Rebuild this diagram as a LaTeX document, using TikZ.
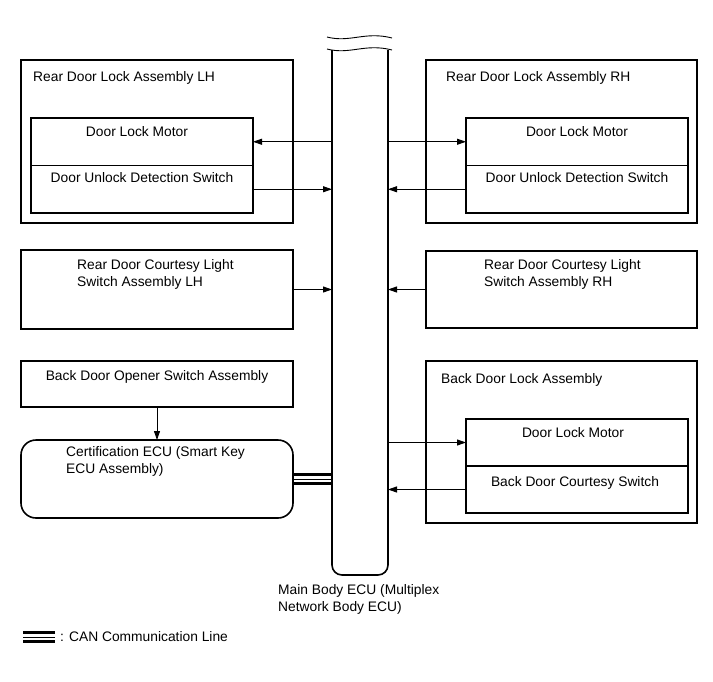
\documentclass[tikz,border=0pt]{standalone}
\usepackage{fontspec}
\setmainfont{Liberation Sans}
\usetikzlibrary{positioning,arrows.meta}

\begin{document}
\begin{tikzpicture}[
  x=1pt, y=-1pt,
  font=\fontsize{13.8}{17}\selectfont,
  assy/.style={rectangle, draw, line width=1.6pt, inner sep=0pt, outer sep=0pt, minimum width=272pt, minimum height=163pt, anchor=north west},
  part/.style={rectangle, draw, line width=1.6pt, inner sep=0pt, outer sep=0pt, minimum width=222pt, minimum height=47.5pt},
  unit/.style={rectangle, draw, line width=1.6pt, inner sep=0pt, outer sep=0pt, minimum width=272pt, anchor=north west},
  lbl/.style={inner sep=0pt, align=left},
  sig/.style={-{Triangle[length=9pt,width=6pt]}, line width=0.9pt},
  canbus/.style={line width=2.2pt},
  canmid/.style={line width=0.8pt}
]
\useasboundingbox (0,0) rectangle (713,681);

% Main body ECU
\node[inner sep=0pt, outer sep=0pt, minimum width=56pt, minimum height=525pt, anchor=north west] (ecu) at (332,50) {};
\draw[line width=1.6pt, rounded corners=10pt] (ecu.north west) -- (ecu.south west) -- (ecu.south east) -- (ecu.north east);
\draw[fill=white, draw=none] (326,36) rectangle (393,49);
\draw[line width=0.9pt] (327,37) .. controls (350,43) and (365,31) .. (392,38);
\draw[line width=0.9pt] (327,49) .. controls (350,55) and (365,43) .. (392,50);
\node[lbl, anchor=west] (ecuTxt) at (278,599.5) {Main Body ECU (Multiplex\\Network Body ECU)};

% Rear door lock LH
\node[assy] (lhAssy) at (21,60) {};
\node[lbl, anchor=west] (lhTitle) at (33,78) {Rear Door Lock Assembly LH};
\node[part, anchor=north west] (lhMotor) at (31,118) {};
\node[part, below=0pt of lhMotor] (lhSwitch) {};
\node[lbl, below=8pt of lhMotor.north, xshift=-5pt] (lhMotorTxt) {Door Lock Motor};
\node[lbl, below=7pt of lhSwitch.north] (lhSwitchTxt) {Door Unlock Detection Switch};

% Rear door lock RH
\node[assy, minimum width=271pt] (rhAssy) at (426,60) {};
\node[lbl, anchor=west] (rhTitle) at (446,78) {Rear Door Lock Assembly RH};
\node[part, anchor=north west] (rhMotor) at (466,118) {};
\node[part, below=0pt of rhMotor] (rhSwitch) {};
\node[lbl, below=8pt of rhMotor.north] (rhMotorTxt) {Door Lock Motor};
\node[lbl, below=7pt of rhSwitch.north] (rhSwitchTxt) {Door Unlock Detection Switch};

% Courtesy light switches
\node[unit, minimum height=79pt] (lhCourtesy) at (21,250) {};
\node[lbl, anchor=west] (lhCourtesyTxt) at (77,274.5) {Rear Door Courtesy Light\\Switch Assembly LH};
\node[unit, minimum width=271pt, minimum height=77pt] (rhCourtesy) at (426,251) {};
\node[lbl, anchor=west] (rhCourtesyTxt) at (484,274.5) {Rear Door Courtesy Light\\Switch Assembly RH};

% Back door opener and certification ECU
\node[unit, minimum height=46pt] (opener) at (21,361) {};
\node[lbl, below=9pt of opener.north] (openerTxt) {Back Door Opener Switch Assembly};
\node[unit, minimum height=78pt, rounded corners=15pt] (cert) at (21,440) {};
\node[lbl, anchor=west] (certTxt) at (66,461.5) {Certification ECU (Smart Key\\ECU Assembly)};

% Back door lock
\node[assy, minimum width=271pt, minimum height=162pt] (bdAssy) at (426,361) {};
\node[lbl, anchor=west] (bdTitle) at (441,380) {Back Door Lock Assembly};
\node[part, anchor=north west, minimum height=47pt] (bdMotor) at (466,419) {};
\node[part, below=0pt of bdMotor, minimum height=47pt] (bdSwitch) {};
\node[lbl, below=8pt of bdMotor.north, xshift=-4pt] (bdMotorTxt) {Door Lock Motor};
\node[lbl, below=10pt of bdSwitch.north, xshift=-2pt] (bdSwitchTxt) {Back Door Courtesy Switch};

% Signal lines
\draw[sig] (ecu.west |- lhMotor.east) -- (lhMotor.east);
\draw[sig] (lhSwitch.east) -- (ecu.west |- lhSwitch.east);
\draw[sig] (ecu.east |- rhMotor.west) -- (rhMotor.west);
\draw[sig] (rhSwitch.west) -- (ecu.east |- rhSwitch.west);
\draw[sig] (lhCourtesy.east) -- (ecu.west |- lhCourtesy.east);
\draw[sig] (rhCourtesy.west) -- (ecu.east |- rhCourtesy.west);
\draw[sig] (opener) -- (cert);
\draw[sig] (ecu.east |- bdMotor.west) -- (bdMotor.west);
\draw[sig] (bdSwitch.west) -- (ecu.east |- bdSwitch.west);

% CAN line
\draw[canbus] ([yshift=4.5pt]cert.east) -- ([yshift=4.5pt]ecu.west |- cert.east);
\draw[canmid] (cert.east) -- (ecu.west |- cert.east);
\draw[canbus] ([yshift=-4.5pt]cert.east) -- ([yshift=-4.5pt]ecu.west |- cert.east);

% Legend
\coordinate (legA) at (23,637);
\coordinate (legB) at (55,637);
\draw[canbus] ([yshift=4.5pt]legA) -- ([yshift=4.5pt]legB);
\draw[canmid] (legA) -- (legB);
\draw[canbus] ([yshift=-4.5pt]legA) -- ([yshift=-4.5pt]legB);
\node[lbl, right=5pt of legB] (legTxt) {: CAN Communication Line};
\end{tikzpicture}
\end{document}
